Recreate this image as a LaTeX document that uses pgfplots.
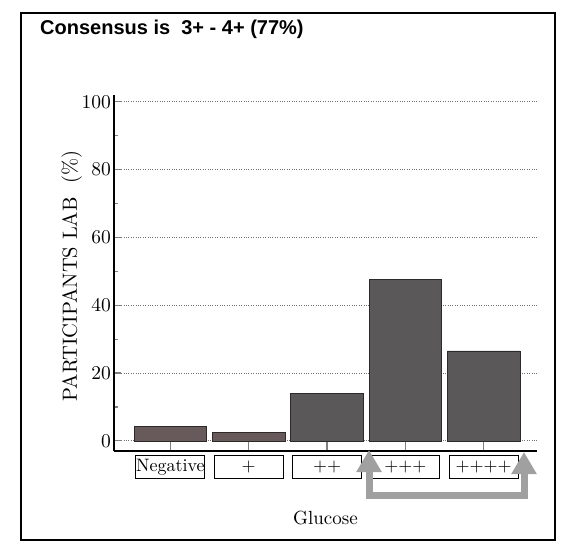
\documentclass[border=0pt]{standalone}
\usepackage{fontspec}
\setmainfont{lmroman10-regular.otf}
\usepackage{pgfplots}
\pgfplotsset{compat=1.18}
\usetikzlibrary{arrows.meta}
\newfontfamily\titlefont{Liberation Sans}
\definecolor{barA}{RGB}{104,90,90}
\definecolor{barB}{RGB}{90,88,88}
\definecolor{barEdge}{RGB}{45,42,42}
\definecolor{arrowgray}{RGB}{160,160,160}
\begin{document}
\begin{tikzpicture}[x=1pt,y=1pt]
\path[use as bounding box] (0,0) rectangle (561,549);
% outer frame
\draw[line width=2pt] (21,9) rectangle (555,536);
% title
\node[anchor=base west, inner sep=0pt, font=\titlefont\fontsize{20}{24}\selectfont\bfseries] at (40,514) {Consensus is\ \ 3+ - 4+ (77\%)};
\begin{axis}[
  at={(114pt,98pt)}, anchor=south west,
  scale only axis,
  width=423pt, height=356pt,
  xmin=-0.72, xmax=4.68,
  ymin=-3, ymax=102,
  axis x line=bottom, axis y line=left,
  axis line style={-, line width=1.5pt},
  ybar, bar width=0.927, bar shift=0pt,
  xtick={0,1,2,3,4},
  xticklabels={Negative,+,++,+++,++++},
  ytick={0,20,40,60,80,100},
  minor ytick={10,30,50,70,90},
  tick align=inside,
  major tick length=7pt, minor tick length=4pt,
  xtick style={line width=1.2pt, /pgfplots/major tick length=10pt},
  ytick style={line width=1.2pt},
  ymajorgrids,
  grid style={dotted, line width=0.7pt, black!55},
  /pgf/number format/assume math mode=true,
  xticklabel style={font=\fontsize{18}{20}\selectfont, draw, line width=1.1pt, minimum width=69pt, minimum height=23pt, inner sep=0pt, anchor=north, yshift=-4pt},
  yticklabel style={font=\fontsize{19.5}{21}\selectfont, inner sep=1pt, xshift=-2pt},
  xlabel={Glucose},
  xlabel style={yshift=-28pt, font=\fontsize{19}{21}\selectfont},
  ylabel={PARTICIPANTS LAB\ \ (\%)},
  ylabel style={font=\fontsize{20.5}{23}\selectfont, yshift=-5pt, xshift=-3pt},
  clip=false,
]
\addplot[fill=barA, draw=barEdge, line width=0.6pt] coordinates {(0,4.2) (1,2.6)};
\addplot[fill=barB, draw=barEdge, line width=0.6pt] coordinates {(2,14.1) (3,47.7) (4,26.5)};
\end{axis}
% gray arrow annotation
\draw[line width=7pt, color=arrowgray, line join=miter,
  {Triangle[width=24pt,length=22pt]}-{Triangle[width=24pt,length=22pt]}]
  (369,99) -- (369,54) -- (524,54) -- (524,97);
\end{tikzpicture}
\end{document}
